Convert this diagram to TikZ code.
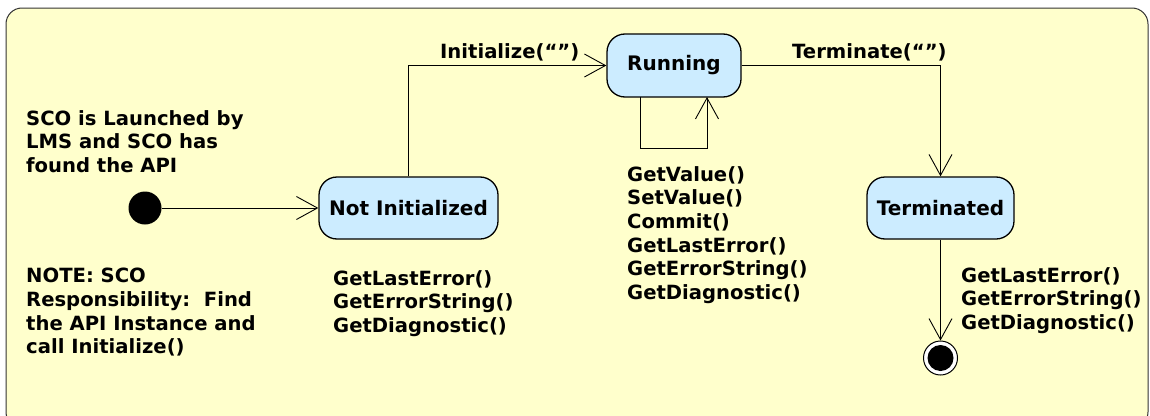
\documentclass[tikz,border=0pt]{standalone}
\usepackage{fontspec}
\setmainfont{DejaVu Sans}
\usetikzlibrary{arrows.meta,calc}
\definecolor{bgyellow}{HTML}{FFFFCC}
\definecolor{stateblue}{HTML}{CCECFF}
\definecolor{frame}{HTML}{333333}
\tikzset{
  lbl/.style={font=\bfseries\fontsize{19.6}{23.7}\selectfont, inner sep=0pt, align=left},
  statebox/.style={draw=black, line width=1.3pt, fill=stateblue, rounded corners=18pt,
    font=\bfseries\fontsize{20}{22}\selectfont, inner sep=0pt},
  trans/.style={line width=0.9pt, -{Straight Barb[length=21pt,width=23pt,line width=0.9pt]}},
}
\begin{document}
\begin{tikzpicture}[x=1pt,y=-1pt]
\useasboundingbox (0,0) rectangle (1150,415);
\fill[white] (0,0) rectangle (1150,415);
\draw[frame, line width=1pt, fill=bgyellow, rounded corners=16pt] (6,8) rectangle (1148,428);
% states
\node[circle, fill=black, minimum size=33pt, inner sep=0pt] (init) at (145,208) {};
\node[statebox, minimum width=179pt, minimum height=62pt] (notinit) at (408.5,208) {Not Initialized};
\node[statebox, minimum width=134pt, minimum height=63pt] (running) at (674,65.5) {Running};
\node[statebox, minimum width=147pt, minimum height=62pt] (terminated) at (940.5,208) {Terminated};
\node[circle, draw=black, line width=1pt, fill=white, minimum size=34pt, inner sep=0pt] (final) at (940.5,358) {};
\fill[black] (final.center) circle (13pt);
% loop corner coordinates
\coordinate (l1) at (640,97);
\coordinate (l2) at (640,148);
\coordinate (l3) at (707,148);
\coordinate (l4) at (707,97);
% transitions
\draw[trans] (init) -- (notinit);
\draw[trans] (notinit.north) |- (running.west);
\draw[trans] (l1) -- (l2) -- (l3) -- (l4);
\draw[trans] (running.east) -| (terminated.north);
\draw[trans] (terminated.south) -- (final);
% labels
\node[lbl, anchor=west] (lInit) at (440,52) {Initialize(“”)};
\node[lbl, anchor=west] (lTerm) at (792,52) {Terminate(“”)};
\node[lbl, anchor=north west] (tSco) at (26,110) {SCO is Launched by\\LMS and SCO has\\found the API};
\node[lbl, anchor=north west] (tNote) at (26,268) {NOTE: SCO\\Responsibility:\ \ Find\\the API Instance and\\call Initialize()};
\node[lbl, anchor=north west] (mNot) at (333,270) {GetLastError()\\GetErrorString()\\GetDiagnostic()};
\node[lbl, anchor=north west] (mRun) at (627,166) {GetValue()\\SetValue()\\Commit()\\GetLastError()\\GetErrorString()\\GetDiagnostic()};
\node[lbl, anchor=north west] (mTerm) at (961,267) {GetLastError()\\GetErrorString()\\GetDiagnostic()};
\end{tikzpicture}
\end{document}
